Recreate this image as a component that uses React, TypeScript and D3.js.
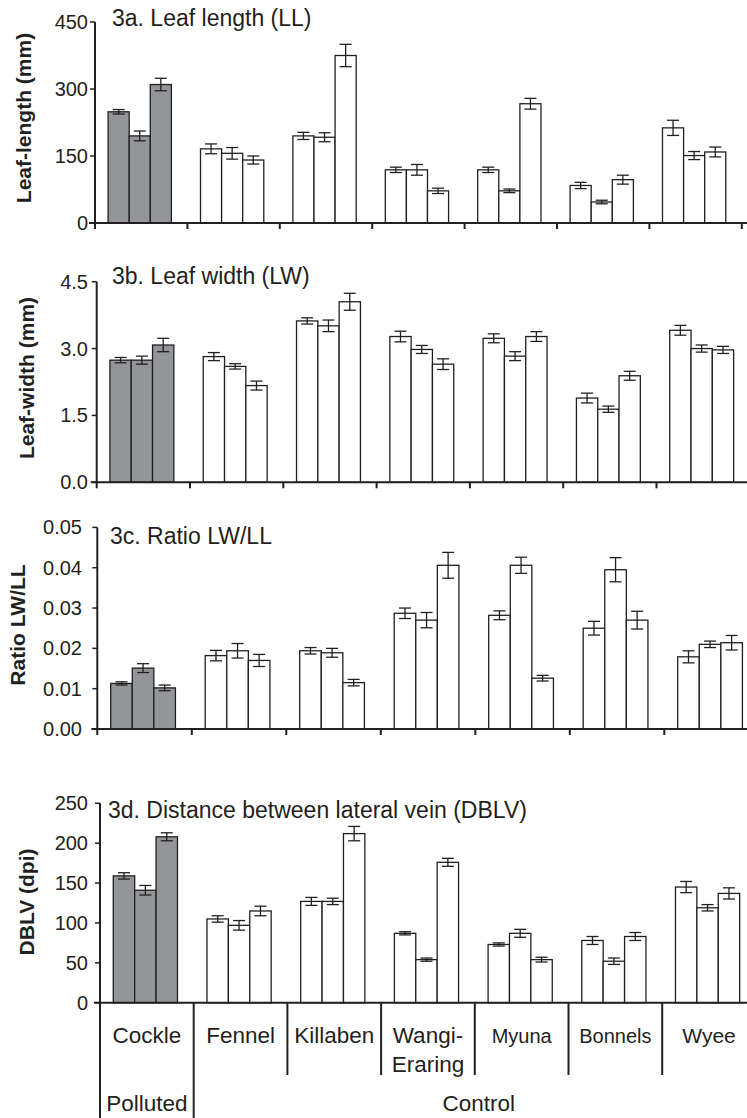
import React from 'react'
import * as d3 from 'd3'

// Sites (Cockle = polluted, rest = control)
const categories = ['Cockle', 'Fennel', 'Killaben', 'Wangi-Eraring', 'Myuna', 'Bonnels', 'Wyee']
const categoryLines = [['Cockle'], ['Fennel'], ['Killaben'], ['Wangi-', 'Eraring'], ['Myuna'], ['Bonnels'], ['Wyee']]
const polluted = ['Cockle']

// 3a. Leaf length (mm), three bars per site
const leafLength = [
  [249, 195, 310], [166, 156, 141], [195, 192, 375], [119, 119, 72],
  [119, 72, 267], [84, 47, 97], [213, 151, 159],
]
const leafLengthErr = [
  [5, 11, 14], [11, 13, 9], [8, 10, 25], [6, 12, 6],
  [6, 4, 12], [7, 4, 10], [17, 9, 11],
]

// 3b. Leaf width (mm)
const leafWidth = [
  [2.74, 2.74, 3.08], [2.82, 2.6, 2.17], [3.62, 3.51, 4.05], [3.27, 2.98, 2.65],
  [3.23, 2.83, 3.27], [1.89, 1.64, 2.39], [3.41, 3.0, 2.97],
]
const leafWidthErr = [
  [0.06, 0.09, 0.15], [0.09, 0.06, 0.1], [0.07, 0.13, 0.19], [0.12, 0.09, 0.12],
  [0.1, 0.1, 0.11], [0.11, 0.07, 0.1], [0.11, 0.08, 0.08],
]

// 3c. Ratio LW/LL
const ratio = [
  [0.0113, 0.0151, 0.0102], [0.0182, 0.0194, 0.017], [0.0194, 0.0189, 0.0115], [0.0287, 0.027, 0.0406],
  [0.0282, 0.0406, 0.0126], [0.025, 0.0395, 0.027], [0.0179, 0.021, 0.0214],
]
const ratioErr = [
  [0.0004, 0.0011, 0.0007], [0.0013, 0.0018, 0.0015], [0.0008, 0.0011, 0.0008], [0.0013, 0.0019, 0.0032],
  [0.0011, 0.002, 0.0007], [0.0017, 0.003, 0.0022], [0.0015, 0.0008, 0.0018],
]

// 3d. Distance between lateral vein (dpi)
const dblv = [
  [159, 141, 208], [105, 97, 115], [127, 127, 212], [87, 54, 176],
  [73, 87, 54], [78, 52, 83], [145, 119, 137],
]
const dblvErr = [
  [4, 6, 5], [4, 6, 6], [5, 4, 9], [2, 2, 5],
  [2, 5, 3], [5, 4, 5], [7, 4, 7],
]

const ticksA = [0, 150, 300, 450]
const ticksB = [0, 1.5, 3.0, 4.5]
const ticksC = [0, 0.01, 0.02, 0.03, 0.04, 0.05]
const ticksD = [0, 50, 100, 150, 200, 250]

const INK = '#231f20'
const GREY = '#939598'
const FONT = '"Liberation Sans", Arial, Helvetica, sans-serif'

type PanelCfg = {
  title: string
  yLabel: string
  ticks: number[]
  fmt: (v: number) => string
  axisX: number
  catW: number
  yTop: number
  y0: number
  labelX: number
  titleX: number
  titleY: number
  yLabelX: number
  yLabelY: number
  bottom?: boolean
}

const panels: { cfg: PanelCfg; values: number[][]; errors: number[][] }[] = [
  {
    cfg: {
      title: '3a. Leaf length (LL)', yLabel: 'Leaf-length (mm)', ticks: ticksA, fmt: d3.format('d'),
      axisX: 95, catW: 92.4, yTop: 22, y0: 223, labelX: 88, titleX: 112, titleY: 26, yLabelX: 23, yLabelY: 118,
    },
    values: leafLength, errors: leafLengthErr,
  },
  {
    cfg: {
      title: '3b. Leaf width (LW)', yLabel: 'Leaf-width (mm)', ticks: ticksB, fmt: d3.format('.1f'),
      axisX: 96.7, catW: 93.3, yTop: 281.7, y0: 482.3, labelX: 88, titleX: 112, titleY: 284, yLabelX: 26, yLabelY: 378,
    },
    values: leafWidth, errors: leafWidthErr,
  },
  {
    cfg: {
      title: '3c. Ratio LW/LL', yLabel: 'Ratio LW/LL', ticks: ticksC, fmt: d3.format('.2f'),
      axisX: 97.3, catW: 94.5, yTop: 527.4, y0: 729, labelX: 82, titleX: 110, titleY: 544, yLabelX: 17, yLabelY: 625,
    },
    values: ratio, errors: ratioErr,
  },
  {
    cfg: {
      title: '3d. Distance between lateral vein (DBLV)', yLabel: 'DBLV (dpi)', ticks: ticksD, fmt: d3.format('d'),
      axisX: 100, catW: 93.7, yTop: 803.3, y0: 1002.7, labelX: 88, titleX: 108, titleY: 818, yLabelX: 26, yLabelY: 902,
      bottom: true,
    },
    values: dblv, errors: dblvErr,
  },
]

function Panel({ cfg, values, errors }: { cfg: PanelCfg; values: number[][]; errors: number[][] }) {
  const x = d3.scaleBand<string>()
    .domain(categories)
    .range([cfg.axisX, cfg.axisX + cfg.catW * categories.length])
    .padding(0)
  const inner = d3.scaleBand<number>()
    .domain([0, 1, 2])
    .range([0, x.bandwidth()])
    .paddingInner(0)
    .paddingOuter(0.69)
    .align(0.45)
  const y = d3.scaleLinear()
    .domain([0, cfg.ticks[cfg.ticks.length - 1]])
    .range([cfg.y0, cfg.yTop])

  const bounds = categories.map((c) => x(c) as number).concat([x.range()[1]])

  return (
    <g>
      <text x={cfg.titleX} y={cfg.titleY} fontSize={23} fill={INK}>{cfg.title}</text>
      <text
        transform={`translate(${cfg.yLabelX},${cfg.yLabelY}) rotate(-90)`}
        textAnchor="middle" dominantBaseline="central"
        fontSize={21} fontWeight="bold" fill={INK}
      >{cfg.yLabel}</text>

      {/* bars */}
      {categories.map((c, ci) => (
        <g key={c} transform={`translate(${x(c)},0)`}>
          {values[ci].map((v, bi) => {
            const bx = inner(bi) as number
            const bw = inner.bandwidth()
            const cx = bx + bw / 2
            const e = errors[ci][bi]
            return (
              <g key={bi}>
                <rect
                  x={bx} y={y(v)} width={bw} height={cfg.y0 - y(v)}
                  fill={polluted.includes(c) ? GREY : '#fff'} stroke={INK} strokeWidth={1.3}
                />
                <line x1={cx} x2={cx} y1={y(v + e)} y2={y(v - e)} stroke={INK} strokeWidth={1.3} />
                <line x1={cx - 6} x2={cx + 6} y1={y(v + e)} y2={y(v + e)} stroke={INK} strokeWidth={1.3} />
                <line x1={cx - 6} x2={cx + 6} y1={y(v - e)} y2={y(v - e)} stroke={INK} strokeWidth={1.3} />
              </g>
            )
          })}
        </g>
      ))}

      {/* y axis */}
      <line x1={cfg.axisX} x2={cfg.axisX} y1={cfg.yTop} y2={cfg.y0} stroke={INK} strokeWidth={2} />
      {cfg.ticks.map((t) => (
        <g key={t}>
          <line x1={cfg.axisX - 5} x2={cfg.axisX} y1={y(t)} y2={y(t)} stroke={INK} strokeWidth={1.5} />
          <text x={cfg.labelX} y={y(t)} dy="0.35em" textAnchor="end" fontSize={20} fill={INK}>{cfg.fmt(t)}</text>
        </g>
      ))}

      {/* x axis */}
      <line x1={cfg.axisX - 6} x2={760} y1={cfg.y0} y2={cfg.y0} stroke={INK} strokeWidth={2} />
      {!cfg.bottom && bounds.map((b, i) => (
        <line key={i} x1={b} x2={b} y1={cfg.y0} y2={cfg.y0 + 6} stroke={INK} strokeWidth={2} />
      ))}

      {cfg.bottom && (
        <g>
          {bounds.map((b, i) => (
            <line key={i} x1={b} x2={b} y1={cfg.y0} y2={i < 2 ? 1118 : 1075} stroke={INK} strokeWidth={2} />
          ))}
          {categories.map((c, ci) => {
            const cx = (x(c) as number) + x.bandwidth() / 2
            const small = c === 'Myuna' || c === 'Bonnels'
            return categoryLines[ci].map((ln, li) => (
              <text
                key={c + li} x={cx} y={1043 + li * 29} textAnchor="middle"
                fontSize={small ? 20 : c === 'Wyee' ? 21 : 22.5} fill={INK}
              >{ln}</text>
            ))
          })}
          <text x={(bounds[0] + bounds[1]) / 2} y={1111} textAnchor="middle" fontSize={22.5} fill={INK}>Polluted</text>
          <text x={(bounds[1] + bounds[7]) / 2 + 4} y={1111} textAnchor="middle" fontSize={22.5} fill={INK}>Control</text>
        </g>
      )}
    </g>
  )
}

export default function App() {
  return (
    <div style={{ position: 'absolute', left: 0, top: 0 }}>
      <svg width={747} height={1118} style={{ display: 'block', fontFamily: FONT, background: '#fff' }}>
        {panels.map((p, i) => (
          <Panel key={i} cfg={p.cfg} values={p.values} errors={p.errors} />
        ))}
      </svg>
    </div>
  )
}
